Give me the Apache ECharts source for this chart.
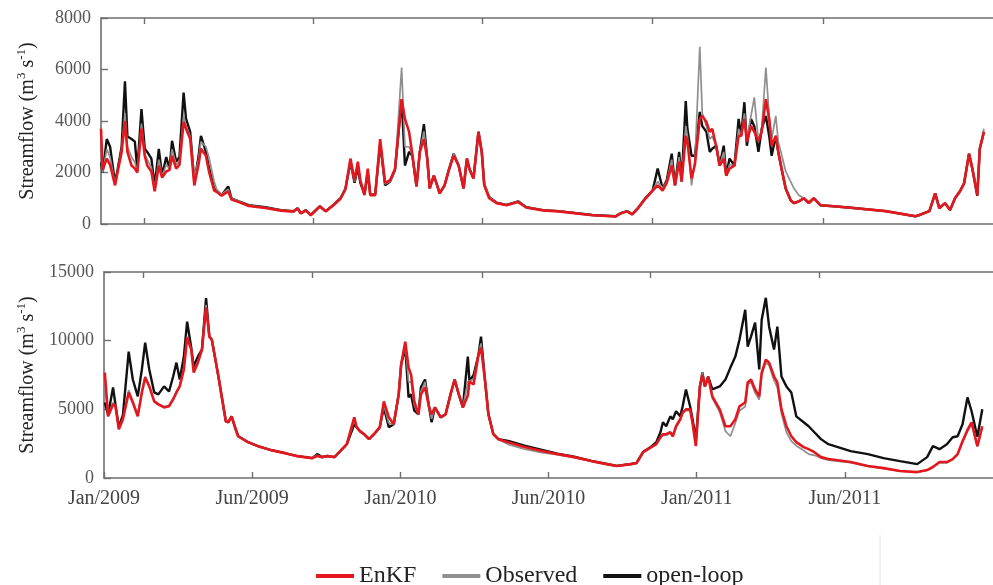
<!DOCTYPE html>
<html><head><meta charset="utf-8">
<script src="https://cdn.jsdelivr.net/npm/echarts@6/dist/echarts.min.js"></script>
<style>html,body{margin:0;padding:0;background:#fff}#c{width:993px;height:585px}</style>
</head><body><div id="c"></div>
<script>
const seriesNames = ['EnKF', 'Observed', 'open-loop'];
const seriesColors = ['#e3181e', '#8f8f8f', '#111111'];
const xTickDays = [0, 180, 360, 540, 720, 900];
const xTickLabels = ['Jan/2009', 'Jun/2009', 'Jan/2010', 'Jun/2010', 'Jan/2011', 'Jun/2011'];
const topFrameTicks = [52, 257, 462, 667, 874];
const bottomFrameTicks = [48, 253, 460, 664, 869];

const topDays = [0,2,7,11,17,20,25,29,32,37,41,44,49,53,56,61,65,70,74,79,83,86,91,95,100,103,108,113,118,121,127,131,137,140,146,154,158,167,179,199,218,233,238,242,248,254,265,272,281,290,296,302,307,311,314,319,323,326,332,338,344,350,356,364,368,373,377,382,386,391,395,398,403,407,410,416,421,427,433,439,443,446,451,457,461,464,470,479,491,505,515,535,554,595,623,629,637,643,650,659,668,674,680,685,691,695,700,703,708,710,715,719,725,728,733,737,740,745,749,754,757,761,767,772,775,779,782,787,791,796,800,805,809,812,817,820,824,829,835,839,845,851,857,863,871,887,911,950,986,991,1003,1010,1015,1022,1028,1034,1040,1045,1051,1055,1061,1064,1069];
const topEnKF = [3700,2100,2540,2300,1500,2000,2800,4000,2800,2270,
2150,2000,3700,2650,2270,2040,1270,2270,1800,2040,
2100,2650,2150,2300,3960,3700,3300,1500,2300,2920,
2650,2000,1300,1250,1100,1270,950,850,700,620,
520,480,600,410,520,340,680,490,720,980,
1350,2540,1700,2420,1700,1120,2150,1120,1120,3300,
1600,1700,2150,4850,4080,3580,2700,1460,2800,3300,
2540,1380,1880,1500,1190,1500,2080,2650,2270,1380,
2540,2150,1770,3580,2800,1500,1000,810,730,850,
640,530,490,340,290,410,490,370,600,980,
1300,1500,1300,1600,2270,1500,2420,1650,3420,3200,
1770,2300,4080,4200,3960,3580,3700,3000,2270,2540,
1880,2150,2270,3420,3420,4080,3200,3810,3580,3200,
3600,4850,4080,3040,3420,2800,2150,1380,920,810,
880,1000,810,1000,730,690,620,500,300,350,
500,1190,615,810,540,1000,1270,1580,2730,2150,
1120,2920,3580];
const topObserved = [2600,2000,2900,2600,1550,2000,2900,4300,3000,2600,
2400,2000,3900,2700,2500,2200,1350,2500,1850,2300,
2150,2900,2300,2400,4200,3800,3400,1800,2500,3200,
3000,2540,1650,1350,1150,1350,1000,880,720,640,
530,490,610,420,530,350,690,500,730,1000,
1380,2400,1650,2300,1700,1150,2000,1150,1150,3100,
1550,1650,2100,6080,3000,3000,2650,1460,2800,3600,
2540,1400,1880,1500,1200,1500,2100,2730,2270,1380,
2540,2150,1770,3580,2800,1600,1050,830,740,880,
650,540,500,350,300,420,500,380,615,1000,
1310,1650,1380,1650,2500,1500,2600,1650,3800,3400,
1500,2400,6880,4300,3800,3300,3400,3040,2270,2800,
1880,2300,2270,3700,3420,4300,3300,4200,4920,3200,
3700,6080,4200,3300,4200,3200,2700,2040,1650,1380,
1120,1000,880,1000,740,690,620,500,310,360,
510,1150,620,800,560,1000,1250,1600,2700,2200,
1200,2900,3700];
const topOpenLoop = [2400,2000,3300,3000,1600,2100,3000,5540,3400,3300,
3200,2100,4460,2920,2800,2540,1460,2920,1880,2600,
2150,3230,2420,2600,5100,4080,3580,1650,2600,3420,
2800,2150,1380,1270,1120,1460,1000,880,730,650,
540,500,615,420,540,350,690,500,730,1000,
1380,2400,1600,2200,1600,1150,2000,1150,1150,3100,
1500,1650,2100,4850,2270,2800,2650,1460,2800,3880,
2540,1380,1880,1500,1190,1500,2080,2730,2270,1380,
2540,2150,1770,3580,2800,1550,1050,830,740,880,
650,540,500,350,300,420,500,380,615,1000,
1310,2150,1380,1700,2730,1500,2800,1650,4770,3700,
2650,2650,4350,3800,3580,2800,2920,3040,2270,3040,
1880,2540,2270,4080,3420,4730,3040,4080,3800,2800,
3700,4200,3420,2650,3420,2800,2150,1380,920,810,
880,1000,810,1000,730,690,620,500,300,350,
500,1190,615,810,540,1000,1270,1580,2730,2150,
1100,2920,3580];

const bottomDays = [1,5,11,14,18,23,30,35,41,46,
50,55,61,66,73,79,84,88,92,97,
101,106,109,114,119,124,128,131,136,139,
143,148,151,155,160,163,175,187,203,220,
235,253,259,265,271,280,287,295,304,307,
311,316,322,328,335,340,346,352,358,361,
366,370,373,377,382,385,390,395,398,402,
409,415,421,426,431,436,442,444,449,455,
458,463,467,473,479,491,511,532,551,571,
592,611,623,640,647,655,665,671,676,679,
683,688,691,695,700,703,707,712,715,719,
724,727,730,734,739,748,755,761,767,772,
779,782,786,791,796,799,804,808,814,818,
823,829,835,841,850,856,863,871,880,907,
928,947,967,988,1000,1007,1015,1024,1031,1037,
1043,1049,1054,1061,1067];
const bottomEnKF = [7680,4490,5360,5220,3550,4280,6230,5500,4490,6230,
7320,6670,5580,5360,5140,5220,5720,6230,6670,7900,
10220,9350,7680,8400,9350,12400,10300,10070,8400,7390,
5940,4130,4060,4490,3550,3040,2610,2320,2030,1810,
1590,1450,1600,1520,1600,1520,1960,2460,4420,3690,
3410,3190,2830,3190,3690,5580,4420,3910,6090,8260,
9930,8040,7540,5580,4640,6090,6600,5140,4640,5140,
4420,4640,6090,7170,6090,5140,6000,7030,6810,8990,
9490,7030,4640,3190,2830,2610,2250,1960,1740,1520,
1230,1010,870,1010,1080,1880,2250,2460,2970,3190,
3190,3330,3040,3770,4280,4780,5000,5000,4000,2320,
6670,7500,6670,7390,5940,5000,3770,3770,4280,5220,
5500,6960,7170,6450,5940,7680,8620,8400,7390,6960,
5000,3770,3040,2610,2250,2100,1880,1520,1380,1160,
870,720,510,430,580,800,1160,1160,1380,1740,
2680,3500,4060,2320,3770];
const bottomObserved = [7000,4500,5500,5200,3600,4300,6400,5600,4600,6300,
7400,6700,5600,5400,5200,5300,5800,6300,6700,8000,
10300,9400,7800,8500,9350,12600,10300,10070,8400,7390,
5940,4130,4060,4490,3550,3040,2610,2320,2030,1810,
1590,1450,1650,1520,1600,1520,1960,2460,4200,3690,
3410,3190,2830,3190,3690,5300,4000,3910,6090,8260,
9700,7000,7000,5300,4640,6300,7000,5140,4300,5140,
4420,4640,6090,7170,6090,5140,7000,7030,7200,8990,
9800,7030,4640,3190,2830,2450,2100,1850,1700,1500,
1220,1000,860,1000,1080,1880,2250,2460,2900,3100,
3100,3300,3000,3700,4200,4700,4900,4900,4000,2600,
6670,7680,6670,7390,5800,4800,3410,3040,4000,4900,
5200,6800,7000,6200,5700,7500,8400,8200,7100,6600,
4700,3330,2680,2350,2000,1740,1650,1450,1300,1120,
850,700,500,420,560,780,1100,1100,1350,1700,
2600,3400,3900,2300,3700];
const bottomOpenLoop = [5500,4600,6600,5300,3700,4600,9200,7170,5940,7900,
9860,7900,6230,6090,6670,6300,7390,8400,7170,8840,
11380,9490,8120,8840,9350,13100,10300,10070,8400,7390,
5940,4130,4060,4490,3550,3040,2610,2320,2030,1810,
1590,1450,1740,1520,1600,1520,1960,2460,3910,3690,
3410,3190,2830,3190,3690,5140,3690,3910,6090,8260,
9490,5870,6100,4900,4640,6600,7170,5140,4060,5140,
4420,4640,6090,7170,6090,5140,8840,7030,7500,8990,
10290,7030,4640,3190,2830,2700,2350,2050,1780,1550,
1250,1020,880,1020,1100,1900,2300,2600,3330,4060,
3770,4490,4280,4860,4490,5220,6450,5220,4280,2800,
6670,7680,6670,7390,6450,6670,7170,8040,8840,10070,
12250,9570,10290,11310,7900,11520,13120,11020,9350,11020,
7390,6670,6230,4490,4060,3770,3330,2830,2460,1960,
1740,1450,1230,1010,1520,2320,2100,2460,2970,3040,
3910,5870,4860,3000,5000];

const FONT = 'Liberation Serif';
const AXC = '#6e6e6e';
function pairs(days, vals) { return days.map((d, i) => [d, vals[i]]); }

const panels = [
  { days: topDays, vals: [topEnKF, topObserved, topOpenLoop], x: 0, y: 0 },
  { days: bottomDays, vals: [bottomEnKF, bottomObserved, bottomOpenLoop], x: 2, y: 1 }
];
const widths = [2.6, 1.7, 2.4];
const series = [];
panels.forEach(p => {
  [2, 1, 0].forEach(k => {
    series.push({
      type: 'line', name: seriesNames[k], xAxisIndex: p.x, yAxisIndex: p.y,
      data: pairs(p.days, p.vals[k]), showSymbol: false, symbol: 'none',
      lineStyle: { color: seriesColors[k], width: widths[k] },
      itemStyle: { color: seriesColors[k] }, z: 3 + (2 - k), animation: false, clip: true
    });
  });
});

function frameAxis(grid, pos, ticks, extra) {
  return Object.assign({
    type: 'value', gridIndex: grid, position: pos, min: 0, max: 1080,
    axisLine: { show: true, onZero: false, lineStyle: { color: AXC, width: 1.6 } },
    axisTick: { show: true, inside: true, length: 6, customValues: ticks, lineStyle: { color: AXC, width: 1.4 } },
    axisLabel: { show: false }, splitLine: { show: false }
  }, extra || {});
}

const yName = '{a|Streamflow (m}{s|3}{a| s}{s|-1}{a|)}';
function yAxis(grid, max, interval) {
  return {
    type: 'value', gridIndex: grid, min: 0, max: max, interval: interval,
    name: yName, nameLocation: 'middle', nameRotate: 90, nameGap: 63,
    nameTextStyle: {
      fontFamily: FONT, color: '#222',
      rich: {
        a: { fontFamily: FONT, fontSize: 20, color: '#222', lineHeight: 23, verticalAlign: 'bottom' },
        s: { fontFamily: FONT, fontSize: 13, color: '#222', lineHeight: 23, verticalAlign: 'top' }
      }
    },
    axisLine: { show: true, lineStyle: { color: AXC, width: 1.6 } },
    axisTick: { show: true, inside: true, length: 7, lineStyle: { color: AXC, width: 1.4 } },
    axisLabel: { fontFamily: FONT, fontSize: 18, color: '#555', margin: 10, formatter: v => String(v) },
    splitLine: { show: false }
  };
}

const option = {
  backgroundColor: '#fff',
  animation: false,
  grid: [
    { left: 101, top: 18, width: 900, height: 206 },
    { left: 104, top: 272, width: 900, height: 206 }
  ],
  xAxis: [
    frameAxis(0, 'bottom', topFrameTicks),
    frameAxis(0, 'top', topFrameTicks),
    frameAxis(1, 'bottom', xTickDays, {
      interval: 180,
      axisLabel: {
        show: true, customValues: xTickDays, fontFamily: FONT, fontSize: 20, color: '#444', margin: 11,
        formatter: v => { const i = xTickDays.indexOf(v); return i >= 0 ? xTickLabels[i] : ''; }
      }
    }),
    frameAxis(1, 'top', bottomFrameTicks)
  ],
  yAxis: [yAxis(0, 8000, 2000), yAxis(1, 15000, 5000)],
  legend: {
    data: seriesNames, left: 311, top: 559, icon: 'rect', itemWidth: 38, itemHeight: 4, itemGap: 26,
    selectedMode: false,
    textStyle: { fontFamily: FONT, fontSize: 24, color: '#222' }
  },
  graphic: [{
    type: 'line', shape: { x1: 880, y1: 535, x2: 880, y2: 585 },
    style: { stroke: '#e4e4e4', lineWidth: 1 }, silent: true
  }],
  series: series
};

const chart = echarts.init(document.getElementById('c'), null, { renderer: 'canvas', width: 993, height: 585 });
chart.setOption(option);
</script>
</body></html>
